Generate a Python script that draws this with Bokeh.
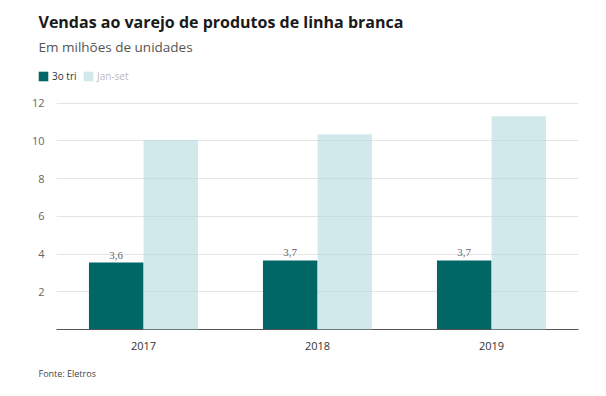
from bokeh.plotting import figure
from bokeh.layouts import column
from bokeh.models import (ColumnDataSource, FactorRange, Range1d, FixedTicker, Label,
                          LabelSet, Legend, LegendItem)
from bokeh.transform import dodge
from bokeh.embed import file_html
from bokeh.resources import INLINE

years = ["2017", "2018", "2019"]
tri3 = [3.55, 3.66, 3.66]
tri3_labels = ["3,6", "3,7", "3,7"]
jan_set = [10.05, 10.35, 11.3]
y_ticks = [2, 4, 6, 8, 10, 12]

FONT = "Open Sans"
DARK = "#006766"
LIGHT = "#b3dadc"
W = 590

src = ColumnDataSource(dict(year=years, tri3=tri3, lab=tri3_labels, janset=jan_set))

def bare(h):
    f = figure(width=W, height=h, output_backend="svg", toolbar_location=None,
               x_range=Range1d(0, W), y_range=Range1d(0, h),
               x_axis_type=None, y_axis_type=None, min_border=0)
    f.grid.visible = False
    f.outline_line_color = None
    f.frame_align = False
    return f

# header
head = bare(90)
head.add_layout(Label(x=38, y=69, text="Vendas ao varejo de produtos de linha branca",
                      text_font=FONT, text_font_size="16px", text_font_style="bold",
                      text_color="#1a1a1a", text_baseline="middle"))
head.add_layout(Label(x=38, y=44, text="Em milhões de unidades",
                      text_font=FONT, text_font_size="13.5px", text_color="#555555",
                      text_baseline="middle"))
d1 = head.vbar(x=[0], top=[0], width=0, fill_color=DARK, line_color=None)
d2 = head.vbar(x=[0], top=[0], width=0, fill_color=LIGHT, fill_alpha=0.6, line_color=None)

def mk_legend(item_label, renderer, color, loc):
    lg = Legend(items=[LegendItem(label=item_label, renderers=[renderer])], location=loc,
                orientation="horizontal", padding=0, margin=0, spacing=0,
                glyph_width=12, glyph_height=12, label_height=12, label_standoff=3,
                label_text_font=FONT, label_text_font_size="10px", label_text_color=color,
                border_line_color=None, background_fill_alpha=0)
    head.add_layout(lg)

mk_legend("3o tri", d1, "#333333", (37, 7))
mk_legend("Jan-set", d2, "#bbbbbb", (82, 7))

# main chart
p = figure(width=W, height=270, output_backend="svg", toolbar_location=None,
           x_range=FactorRange(factors=years, range_padding=0),
           y_range=Range1d(0, 12.3),
           min_border_left=56, min_border_right=12, min_border_top=7, min_border_bottom=31)
p.outline_line_color = None
p.frame_align = False

r1 = p.vbar(x=dodge("year", -0.157, range=p.x_range), top="tri3", width=0.313, source=src,
            fill_color=DARK, line_color=None)
r2 = p.vbar(x=dodge("year", 0.157, range=p.x_range), top="janset", width=0.313, source=src,
            fill_color=LIGHT, fill_alpha=0.6, line_color=None, level="overlay")

p.add_layout(LabelSet(x=dodge("year", -0.157, range=p.x_range), y="tri3", text="lab",
                      source=src, y_offset=4, text_align="center", text_baseline="bottom",
                      text_font=FONT, text_font_size="11px", text_color="#666666"))

p.xgrid.grid_line_color = None
p.ygrid.grid_line_color = "#e4e4e4"
p.yaxis.ticker = FixedTicker(ticks=y_ticks)
p.yaxis.axis_line_color = None
p.yaxis.major_tick_line_color = None
p.yaxis.minor_tick_line_color = None
p.yaxis.major_label_standoff = 6
p.yaxis.major_label_text_font = FONT
p.yaxis.major_label_text_font_size = "11px"
p.yaxis.major_label_text_color = "#666666"

p.xaxis.axis_line_color = "#555555"
p.xaxis.major_tick_line_color = None
p.xaxis.minor_tick_line_color = None
p.xaxis.major_label_standoff = 6
p.xaxis.major_label_text_font = FONT
p.xaxis.major_label_text_font_size = "11px"
p.xaxis.major_label_text_color = "#333333"

# footer
foot = bare(20)
foot.add_layout(Label(x=38, y=7, text="Fonte: Eletros", text_font=FONT,
                      text_font_size="9px", text_color="#444444", text_baseline="middle"))

layout = column(head, p, foot, spacing=0)
open("out.html", "w").write(file_html(layout, INLINE))
